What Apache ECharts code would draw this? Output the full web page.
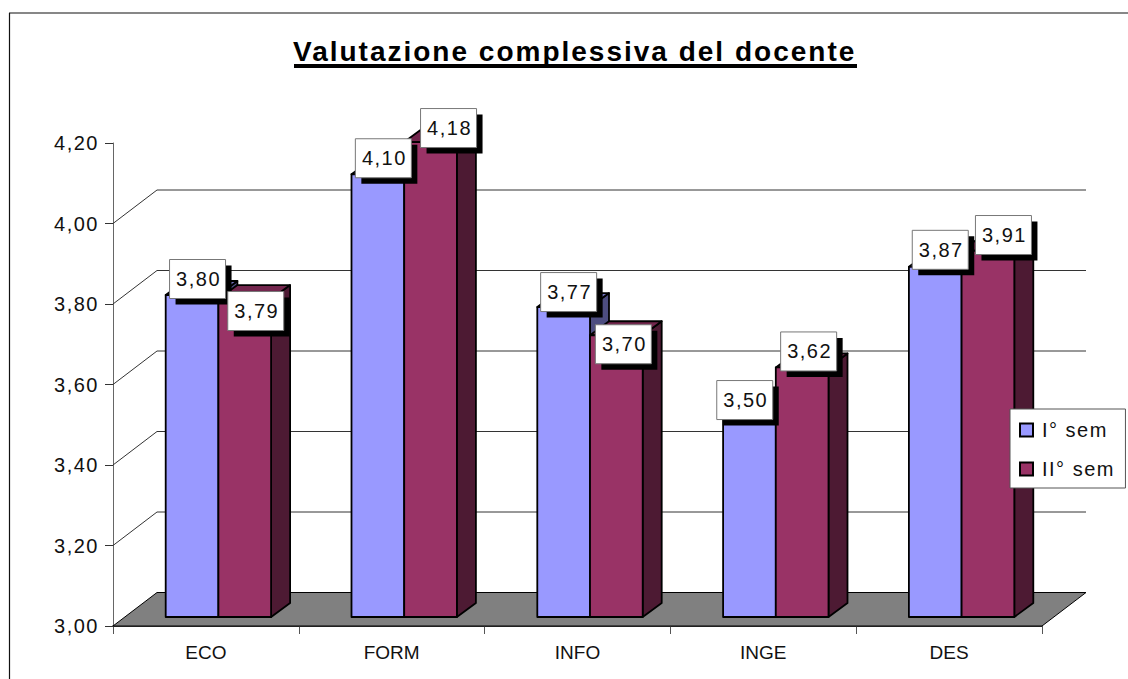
<!DOCTYPE html>
<html>
<head>
<meta charset="utf-8">
<style>
html,body{margin:0;padding:0;background:#fff}
#c{width:1128px;height:679px}
#c text{letter-spacing:1.5px}
#c text[style*="Tahoma"]{letter-spacing:0}
#c text[style*="Verdana"]{letter-spacing:2px}
</style>
<script src="https://cdn.jsdelivr.net/npm/echarts@6/dist/echarts.min.js"></script>
</head>
<body>
<div id="c"></div>
<script>
const titleText = 'Valutazione complessiva del docente';
const categories = ['ECO', 'FORM', 'INFO', 'INGE', 'DES'];
const seriesNames = ['I° sem', 'II° sem'];
const sem1 = [3.80, 4.10, 3.77, 3.50, 3.87];
const sem2 = [3.79, 4.18, 3.70, 3.62, 3.91];
const wallValues = [3.0, 3.2, 3.4, 3.6, 3.8, 4.0];

// styling only: colours and offsets of the pseudo-3D look
const palette = [
  {front: '#9999FF', top: '#7373BF', side: '#4D4D80'},
  {front: '#993366', top: '#73264D', side: '#4D1A33'}
];
const wallDepth = [44, -33.5];
const barNear = [12.5, -9];
const barDepth = [19, -14];
const barWidth = 52.7;
const labelShift = [
  [[5.5, -16], [5.5, -16], [5, -15], [-4.7, -15.7], [5, -17]],
  [[11, 12], [18, -14], [7, 9], [6.5, -16], [15.5, -15.7]]
];
const sans = '"Liberation Sans", Arial, sans-serif';
const catFont = '"Liberation Sans", Tahoma, sans-serif';
const titleFont = '"Liberation Sans", Verdana, sans-serif';
const comma = v => Number(v).toFixed(2).replace('.', ',');
const toPairs = arr => arr.map((v, i) => [i, v]);

function barGeom(api, s) {
  const i = api.value(0), v = api.value(1);
  const top = api.coord([i, v]);
  const base = api.coord([i, 3]);
  const x0 = top[0] + barNear[0] + (s === 0 ? -barWidth : 0);
  return {i, v, x0, x1: x0 + barWidth, yTop: top[1] + barNear[1], yBot: base[1] + barNear[1]};
}

function renderWall(params, api) {
  const v = api.value(1);
  const cs = params.coordSys;
  const p = api.coord([0, v]);
  const x0 = cs.x, x1 = cs.x + cs.width, y = p[1];
  const [dx, dy] = wallDepth;
  if (v === 3) {
    return {type: 'polygon', shape: {points: [[x0, y], [x0 + dx, y + dy], [x1 + dx, y + dy], [x1, y]]},
      style: {fill: '#808080', stroke: '#000', lineWidth: 1}};
  }
  return {type: 'polyline', shape: {points: [[x0, y], [x0 + dx, y + dy], [x1 + dx, y + dy]]},
    style: {fill: 'none', stroke: '#333', lineWidth: 1}};
}

function renderBar(s) {
  return function (params, api) {
    const g = barGeom(api, s), c = palette[s];
    const [dx, dy] = barDepth;
    const line = {stroke: '#000', lineWidth: 1.8, lineJoin: 'round'};
    return {type: 'group', children: [
      {type: 'polygon', shape: {points: [[g.x1, g.yBot], [g.x1 + dx, g.yBot + dy], [g.x1 + dx, g.yTop + dy], [g.x1, g.yTop]]},
        style: Object.assign({fill: c.side}, line)},
      {type: 'polygon', shape: {points: [[g.x0, g.yTop], [g.x0 + dx, g.yTop + dy], [g.x1 + dx, g.yTop + dy], [g.x1, g.yTop]]},
        style: Object.assign({fill: c.top}, line)},
      {type: 'rect', shape: {x: g.x0, y: g.yTop, width: barWidth, height: g.yBot - g.yTop},
        style: Object.assign({fill: c.front}, line)}
    ]};
  };
}

function renderLabel(s) {
  return function (params, api) {
    const g = barGeom(api, s);
    const sh = labelShift[s][g.i];
    const cx = (g.x0 + g.x1) / 2 + sh[0];
    const cy = g.yTop + sh[1];
    const w = 56, h = 39;
    return {type: 'group', children: [
      {type: 'rect', shape: {x: cx - w / 2 + 6, y: cy - h / 2 + 6, width: w, height: h}, style: {fill: '#000'}},
      {type: 'rect', shape: {x: cx - w / 2, y: cy - h / 2, width: w, height: h},
        style: {fill: '#fff', stroke: '#777', lineWidth: 1}},
      {type: 'text', x: cx + 1, y: cy, style: {text: comma(g.v), fill: '#111', font: '20px ' + sans,
        textAlign: 'center', textVerticalAlign: 'middle'}}
    ]};
  };
}

const chart = echarts.init(document.getElementById('c'), null, {renderer: 'svg'});
chart.setOption({
  animation: false,
  backgroundColor: '#fff',
  title: {text: titleText, left: 293, top: 37, padding: 0,
    textStyle: {fontFamily: titleFont, fontSize: 28, fontWeight: 'bold', color: '#000'}},
  grid: {left: 113, right: 86, top: 143, bottom: 53},
  xAxis: {type: 'category', data: categories, boundaryGap: true,
    axisLine: {show: true, lineStyle: {color: '#000', width: 1.5}},
    axisTick: {show: true, length: 8, alignWithLabel: false, lineStyle: {color: '#555'}},
    axisLabel: {fontFamily: catFont, fontSize: 19, color: '#111', margin: 17},
    splitLine: {show: false}},
  yAxis: {type: 'value', min: 3, max: 4.2, interval: 0.2,
    axisLine: {show: true, lineStyle: {color: '#666'}},
    axisTick: {show: true, length: 8, lineStyle: {color: '#333'}},
    axisLabel: {fontFamily: sans, fontSize: 20, color: '#111', margin: 14, formatter: comma},
    splitLine: {show: false}},
  legend: {show: true, orient: 'vertical', left: 1010, top: 409, data: seriesNames, z: 20,
    icon: 'rect',
    backgroundColor: '#fff', borderColor: '#555', borderWidth: 1,
    padding: [11, 21, 9, 9], itemWidth: 13, itemHeight: 13, itemGap: 19,
    selectedMode: false,
    textStyle: {fontFamily: sans, fontSize: 20, color: '#111', padding: [0, 0, 0, 4]}},
  graphic: [
    {type: 'line', shape: {x1: 9, y1: 13, x2: 1128, y2: 13}, style: {stroke: '#111', lineWidth: 1.2}},
    {type: 'line', shape: {x1: 9.5, y1: 13, x2: 9.5, y2: 679}, style: {stroke: '#111', lineWidth: 1.2}},
    {type: 'rect', shape: {x: 294, y: 64, width: 563, height: 4}, style: {fill: '#000'}}
  ],
  series: [
    {type: 'custom', name: 'wall', z: 1, clip: false, silent: true, data: wallValues.map(v => [0, v]),
      renderItem: renderWall, encode: {x: 0, y: 1}},
    {type: 'custom', name: seriesNames[0], z: 3, clip: false, data: toPairs(sem1),
      itemStyle: {color: palette[0].front, borderColor: '#000', borderWidth: 1.5},
      renderItem: renderBar(0), encode: {x: 0, y: 1}},
    {type: 'custom', name: seriesNames[1], z: 4, clip: false, data: toPairs(sem2),
      itemStyle: {color: palette[1].front, borderColor: '#000', borderWidth: 1.5},
      renderItem: renderBar(1), encode: {x: 0, y: 1}},
    {type: 'custom', name: 'labels1', z: 5, clip: false, data: toPairs(sem1),
      renderItem: renderLabel(0), encode: {x: 0, y: 1}},
    {type: 'custom', name: 'labels2', z: 6, clip: false, data: toPairs(sem2),
      renderItem: renderLabel(1), encode: {x: 0, y: 1}}
  ]
});
</script>
</body>
</html>
